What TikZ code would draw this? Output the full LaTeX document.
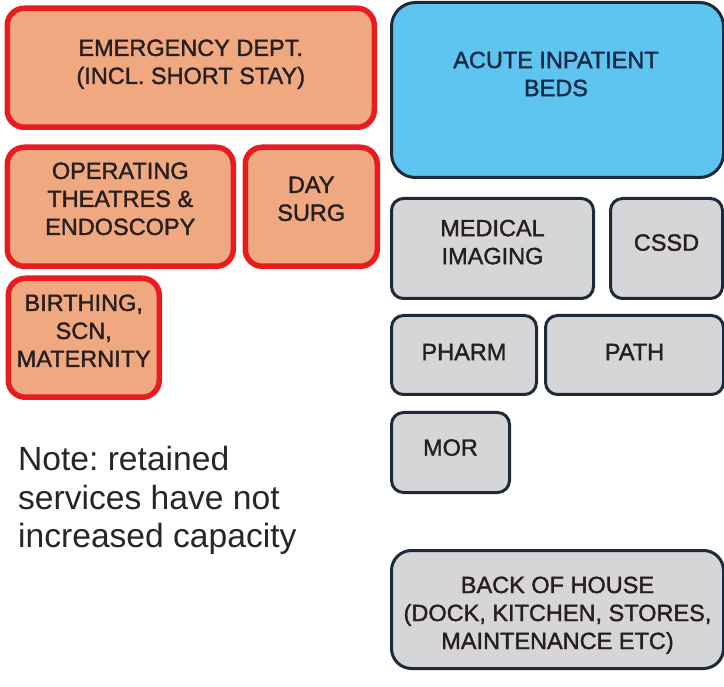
\documentclass[tikz,border=0pt]{standalone}
\usepackage{fontspec}
\setmainfont{Liberation Sans}
\newfontfamily\boxfont[FakeBold=1.5]{Liberation Sans}
\definecolor{salmon}{RGB}{240,168,128}
\definecolor{redline}{RGB}{232,28,30}
\definecolor{skyfill}{RGB}{94,196,240}
\definecolor{navyline}{RGB}{30,42,56}
\definecolor{greyfill}{RGB}{214,214,217}
\definecolor{txtdark}{RGB}{40,30,30}
\definecolor{txtnavy}{RGB}{25,42,70}
\newcommand{\mydepth}[1]{\rule[-#1pt]{0pt}{#1pt}}
\begin{document}
\begin{tikzpicture}[x=1pt,y=-1pt,
  boxbase/.style={anchor=north west, inner sep=0pt, align=center,
    font=\boxfont\fontsize{23.5}{28}\selectfont, text=txtdark},
  redbox/.style={boxbase, draw=redline, fill=salmon, line width=5.5pt, rounded corners=17pt},
  bluebox/.style={boxbase, draw=navyline, fill=skyfill, line width=3pt, rounded corners=24pt},
  greybox/.style={boxbase, draw=navyline, fill=greyfill, line width=3pt, rounded corners=12pt},
  notetext/.style={anchor=north west, inner sep=0pt, align=left,
    font=\frenchspacing\fontsize{33.6}{38.5}\selectfont, text=black!85}
]
\useasboundingbox (0,0) rectangle (724,687);

% red boxes
\node[redbox, minimum width=367pt, minimum height=119pt] (ed) at (4.5,5.5)
  {EMERGENCY DEPT.\\(INCL. SHORT STAY)\mydepth{12}};
\node[redbox, minimum width=226pt, minimum height=119pt] (ot) at (4.5,144.5)
  {OPERATING\\THEATRES \&\\ENDOSCOPY\mydepth{16}};
\node[redbox, minimum width=132pt, minimum height=119pt] (day) at (242.5,144.5)
  {DAY\\SURG\mydepth{16}};
\node[redbox, minimum width=151pt, minimum height=119pt] (birth) at (5.5,275.5)
  {BIRTHING,\\SCN,\\MATERNITY\mydepth{14}};

% blue box
\node[bluebox, minimum width=332pt, minimum height=175pt] (acute) at (390,1) {};
\node[anchor=center, inner sep=0pt, align=center,
  font=\boxfont\fontsize{23.5}{28}\selectfont, text=txtnavy] (acutetxt) at (556,74)
  {ACUTE INPATIENT\\BEDS};

% grey boxes
\node[greybox, minimum width=202pt, minimum height=100pt] (mi) at (390,197)
  {MEDICAL\\IMAGING\mydepth{13}};
\node[greybox, minimum width=112pt, minimum height=100pt] (cssd) at (609,197)
  {CSSD\mydepth{12}};
\node[greybox, minimum width=145pt, minimum height=79pt] (pharm) at (390,314)
  {PHARM\mydepth{6}};
\node[greybox, minimum width=178pt, minimum height=79pt] (path) at (544,314)
  {PATH\mydepth{6}};
\node[greybox, minimum width=118pt, minimum height=80pt] (mor) at (390,411)
  {MOR\mydepth{10}};
\node[greybox, minimum width=332pt, minimum height=118pt, rounded corners=20pt] (boh) at (390,549)
  {\rule{0pt}{28pt}BACK OF HOUSE\\(DOCK, KITCHEN, STORES,\\MAINTENANCE ETC)};

% note
\node[notetext] (note) at (18,446)
  {Note: retained\\services have not\\increased capacity};
\end{tikzpicture}
\end{document}
